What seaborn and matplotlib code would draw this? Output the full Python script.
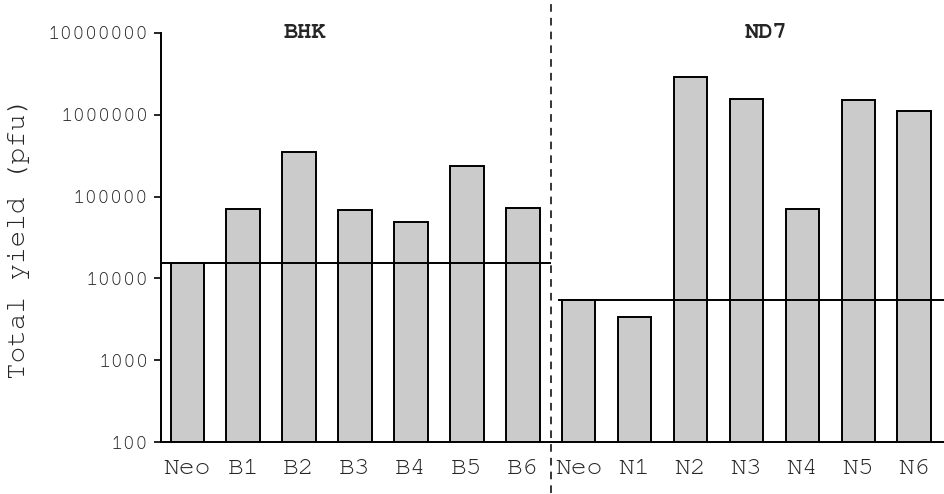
import matplotlib
matplotlib.use("Agg")
import matplotlib.pyplot as plt
import seaborn as sns
import pandas as pd
from matplotlib.ticker import FixedLocator, NullLocator

# ---- data ----
bhk_labels = ["Neo", "B1", "B2", "B3", "B4", "B5", "B6"]
bhk_yield = [15500, 70000, 350000, 68500, 49000, 237000, 72000]
nd7_labels = ["Neo", "N1", "N2", "N3", "N4", "N5", "N6"]
nd7_yield = [5400, 3350, 2870000, 1540000, 71000, 1510000, 1120000]
group_names = ["BHK", "ND7"]
y_ticks = [100, 1000, 10000, 100000, 1000000, 10000000]
y_label = "Total yield (pfu)"

sns.set_theme(style="white")
plt.rcParams["font.family"] = ["Courier New", "Nimbus Mono PS", "FreeMono",
                               "Liberation Mono", "DejaVu Sans Mono"]

ids = [f"BHK_{l}" for l in bhk_labels] + [f"ND7_{l}" for l in nd7_labels]
df = pd.DataFrame({"id": ids, "yield": bhk_yield + nd7_yield,
                   "label": bhk_labels + nd7_labels})

fig = plt.figure(figsize=(9.45, 4.94), dpi=100)
ax = fig.add_axes([161 / 945, 52 / 494, 1 - 161 / 945, (442 - 33) / 494])

sns.barplot(data=df, x="id", y="yield", order=ids, color="#cbcbcb",
            saturation=1, width=0.6, edgecolor="black", linewidth=1.4, ax=ax)
ax.set_yscale("log")
ax.set_ylim(100, 1e7)
n_b = len(bhk_labels)
n_tot = len(ids)
ax.set_xlim(-0.47, n_tot - 0.45)

ax.yaxis.set_major_locator(FixedLocator(y_ticks))
ax.yaxis.set_minor_locator(NullLocator())
ax.set_yticklabels([str(v) for v in y_ticks], fontsize=15)
ax.set_xticks(range(n_tot))
ax.set_xticklabels(df["label"], fontsize=19)
ax.tick_params(axis="x", length=0, pad=12)
ax.tick_params(axis="y", length=5, width=1.2, direction="out", pad=4, color="black", left=True)
ax.set_xlabel("")
ax.set_ylabel(y_label, fontsize=20, labelpad=13)

for s in ["top", "right"]:
    ax.spines[s].set_visible(False)
for s in ["left", "bottom"]:
    ax.spines[s].set_color("black")
    ax.spines[s].set_linewidth(1.4)

# reference lines at Neo level for each group
sep = n_b - 0.5
ax.hlines(bhk_yield[0], -0.47, sep, color="black", linewidth=1.4)
ax.hlines(nd7_yield[0], sep + 0.13, n_tot - 0.45, color="black", linewidth=1.4)

# separator
ax.axvline(sep, ymin=-0.125, ymax=1.08, color="black", linewidth=1.1,
           linestyle=(0, (5, 4)), clip_on=False)

# group titles
ax.text(2.1, 1.0, group_names[0], transform=ax.get_xaxis_transform(),
        ha="center", va="center", fontsize=17, fontweight="bold")
ax.text(10.35, 1.0, group_names[1], transform=ax.get_xaxis_transform(),
        ha="center", va="center", fontsize=17, fontweight="bold")

fig.savefig("out.png", dpi=100)
